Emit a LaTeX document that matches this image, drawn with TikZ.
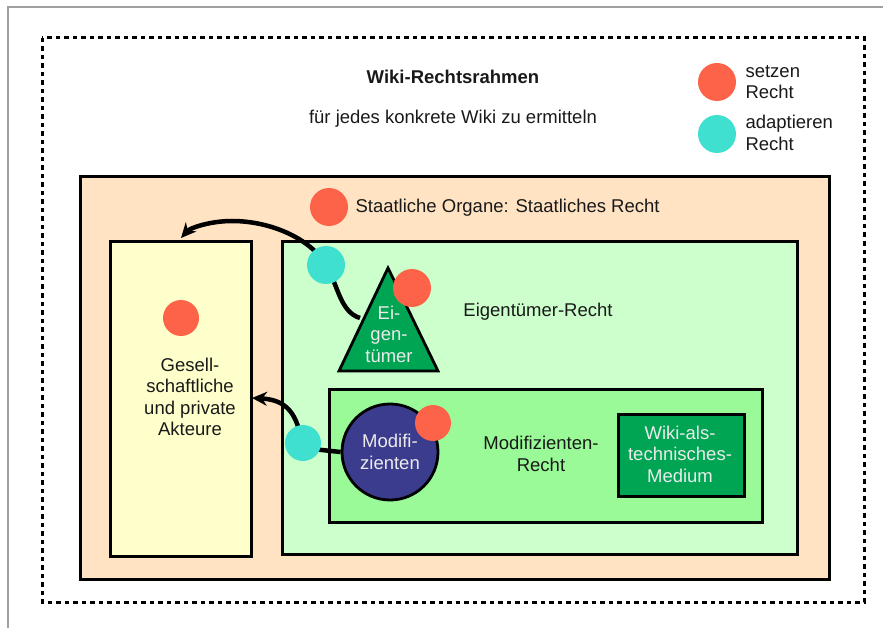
\documentclass[tikz,border=0pt]{standalone}
\usepackage{fontspec}
\setmainfont{Liberation Sans}
\usetikzlibrary{shapes.geometric,arrows.meta}
\definecolor{setzen}{HTML}{FD6348}
\definecolor{adapt}{HTML}{40E0D0}
\definecolor{peach}{HTML}{FFE3C3}
\definecolor{paleyellow}{HTML}{FFFFCC}
\definecolor{palegreen}{HTML}{CCFFCC}
\definecolor{midgreen}{HTML}{99FA97}
\definecolor{darkgreen}{HTML}{00A553}
\definecolor{navy}{HTML}{3C3C8F}
\definecolor{framegray}{HTML}{A0A0A0}
\tikzset{
  area/.style={draw=black, line width=2.8pt},
  redmark/.style={circle, fill=setzen, minimum size=38pt, inner sep=0pt},
  tealmark/.style={circle, fill=adapt, minimum size=38pt, inner sep=0pt},
  label/.style={font=\fontsize{18.5}{21.5}\selectfont, align=center, text=black!90},
  whitelabel/.style={label, text=white!92!black},
  flow/.style={line width=4.5pt, -{Stealth[length=15pt,width=14pt]}},
}
\begin{document}
\begin{tikzpicture}[x=1pt,y=-1pt]
\useasboundingbox (0,0) rectangle (883,628);
% page frame
\draw[framegray, line width=1.5pt] (8,628) -- (8,7) -- (883,7);
% outer dotted frame
\draw[line width=3pt, dash pattern=on 4.5pt off 4pt] (42,38) rectangle (864,602);

% title and legend
\node[label, font=\bfseries\fontsize{18.5}{21.5}\selectfont] (title) at (453,77) {Wiki-Rechtsrahmen};
\node[label] (subtitle) at (453,119) {für jedes konkrete Wiki zu ermitteln};
\node[redmark] (legR) at (717,82) {};
\node[label, align=left, anchor=west] (legRt) at (742,82) {setzen\\Recht};
\node[tealmark] (legT) at (717,134) {};
\node[label, align=left, anchor=west] (legTt) at (742,133) {adaptieren\\Recht};

% state law area
\node[area, fill=peach, minimum width=749pt, minimum height=403pt, anchor=north west] (state) at (79,175) {};
\node[redmark] (stateR) at (329,207) {};
\node[label, anchor=west] (stateT) at (352,208) {Staatliche Organe: Staatliches Recht};

% society
\node[area, fill=paleyellow, minimum width=141pt, minimum height=315pt, anchor=north west] (society) at (109,240) {};
\node[redmark, minimum size=36pt] (socR) at (181,318) {};
\node[label] (socT) at (190,397) {Gesell-\\schaftliche\\und private\\Akteure};

% owner law area
\node[area, fill=palegreen, minimum width=515pt, minimum height=313pt, anchor=north west] (owner) at (281,240) {};
\node[label] (ownerT) at (538,312) {Eigentümer-Recht};
\draw[area, fill=darkgreen, line join=miter] (388,268) -- (438,371) -- (339,371) -- cycle;
\coordinate (ownerLeft) at (360,318);
\node[whitelabel] (ownerL) at (389,334) {Ei-\\gen-\\tümer};
\node[redmark] (ownerR) at (412,288) {};

% modifier law area
\node[area, fill=midgreen, minimum width=433pt, minimum height=133pt, anchor=north west] (modif) at (328,388) {};
\node[label] (modifT) at (541,454) {Modifizienten-\\Recht};
\node[circle, area, fill=navy, minimum size=96pt, inner sep=0pt] (modifC) at (390,452) {};
\node[whitelabel] (modifL) at (390,452) {Modifi-\\zienten};
\node[redmark, minimum size=36pt] (modifR) at (433,423) {};

% medium
\node[area, fill=darkgreen, minimum width=126pt, minimum height=82pt, anchor=north west] (medium) at (617,413) {};
\node[whitelabel] (mediumL) at (680,454) {Wiki-als-\\technisches-\\Medium};

% adaptation flows
\coordinate (socTop) at (181,238);
\coordinate (socSide) at (252,398);
\draw[flow] (ownerLeft) .. controls (340,312) and (338,285) .. (326,265)
  .. controls (310,238) and (270,221) .. (232,221)
  .. controls (210,221) and (190,228) .. (socTop);
\node[tealmark] (ownerA) at (326,265) {};

\draw[flow] (modifC.west) -- (303,448) .. controls (298,420) and (292,400) .. (socSide);
\node[tealmark, minimum size=36pt] (modifA) at (303,443) {};
\end{tikzpicture}
\end{document}
